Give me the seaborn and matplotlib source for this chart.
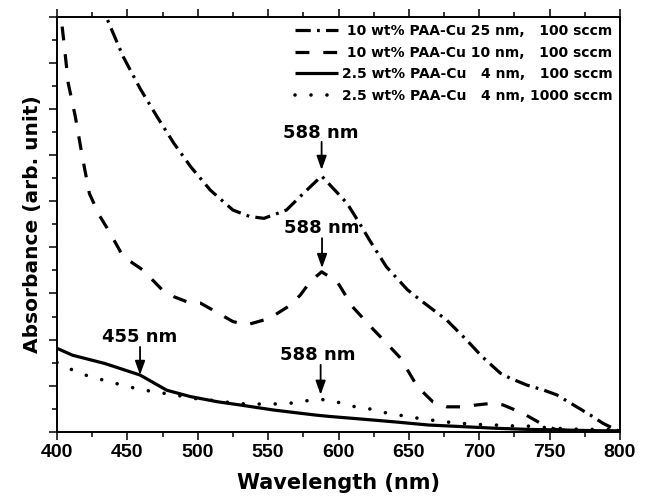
import numpy as np
import pandas as pd
import seaborn as sns
import matplotlib
matplotlib.use("Agg")
import matplotlib.pyplot as plt
from matplotlib.ticker import MultipleLocator

# ---------------- data ----------------
wl_25 = [430, 435, 447, 459, 471, 483, 495, 509, 525, 537, 547, 563, 575, 588,
         606, 615, 622, 634, 649, 658, 677, 691, 702, 715, 722, 734, 746, 755,
         767, 779, 788, 800]
abs_25 = [9.9, 9.0, 8.14, 7.45, 6.84, 6.26, 5.75, 5.24, 4.81, 4.67, 4.63, 4.81,
          5.17, 5.55, 4.96, 4.52, 4.16, 3.58, 3.08, 2.86, 2.42, 1.99, 1.63, 1.27,
          1.16, 1.01, 0.90, 0.80, 0.58, 0.36, 0.18, 0.0]

wl_10 = [400, 403, 405, 408, 413, 418, 423, 430, 437, 447, 461, 475, 483, 494,
         502, 513, 525, 535, 551, 566, 573, 580, 588, 599, 610, 625, 632, 644,
         656, 667, 677, 689, 698, 710, 717, 731, 746, 755, 770, 800]
abs_10 = [9.7, 8.97, 8.43, 7.56, 6.84, 5.97, 5.17, 4.7, 4.35, 3.8, 3.51, 3.07,
          2.93, 2.80, 2.79, 2.60, 2.39, 2.32, 2.46, 2.75, 2.97, 3.26, 3.47, 3.26,
          2.71, 2.21, 1.99, 1.60, 0.98, 0.65, 0.54, 0.54, 0.58, 0.62, 0.58, 0.40,
          0.14, 0.04, 0.02, 0.01]

wl_4 = [400, 411, 434, 459, 478, 495, 502, 514, 530, 554, 573, 584, 594, 618,
        641, 664, 688, 712, 735, 759, 783, 800]
abs_4 = [1.81, 1.66, 1.48, 1.23, 0.90, 0.76, 0.72, 0.65, 0.58, 0.47, 0.40, 0.36,
         0.33, 0.27, 0.21, 0.145, 0.11, 0.074, 0.05, 0.037, 0.022, 0.015]

wl_4k = [400, 411, 422, 433, 444, 456, 468, 479, 491, 502, 515, 527, 539, 552,
         564, 577, 588, 601, 612, 623, 635, 647, 657, 669, 680, 692, 704, 716,
         727, 738, 750, 761, 773, 784, 800]
abs_4k = [1.50, 1.34, 1.21, 1.12, 1.03, 0.94, 0.87, 0.82, 0.76, 0.70, 0.67, 0.61,
          0.60, 0.60, 0.61, 0.67, 0.70, 0.63, 0.54, 0.49, 0.40, 0.34, 0.29, 0.24,
          0.20, 0.17, 0.15, 0.14, 0.12, 0.12, 0.08, 0.065, 0.05, 0.05, 0.05]

labels = [" 10 wt% PAA-Cu 25 nm,   100 sccm",
          " 10 wt% PAA-Cu 10 nm,   100 sccm",
          "2.5 wt% PAA-Cu   4 nm,   100 sccm",
          "2.5 wt% PAA-Cu   4 nm, 1000 sccm"]

xticks = [400, 450, 500, 550, 600, 650, 700, 750, 800]
xticklabels = ["400", "450", "500", "550", "600", "650", "700", "750", "800"]

# annotations: (text, text_x, text_y, arrow_x, arrow_tail_y, arrow_tip_y)
ann_text = ["588 nm", "588 nm", "588 nm", "455 nm"]
ann_tx = [587.3, 587.9, 585.5, 458.5]
ann_ty = [6.48, 4.42, 1.66, 2.05]
ann_ax = [588.0, 588.3, 587.3, 459.0]
ann_tail = [6.29, 4.20, 1.45, 1.84]
ann_tip = [5.68, 3.55, 0.80, 1.23]

# ---------------- styling ----------------
sns.set_theme(style="ticks")
plt.rcParams["font.family"] = ["DejaVu Sans"]
plt.rcParams["font.weight"] = "bold"
plt.rcParams["lines.scale_dashes"] = False
plt.rcParams["text.color"] = "black"
plt.rcParams["axes.labelcolor"] = "black"
plt.rcParams["xtick.color"] = "black"
plt.rcParams["ytick.color"] = "black"
plt.rcParams["axes.edgecolor"] = "black"

fig = plt.figure(figsize=(6.49, 4.99), dpi=100)
ax = fig.add_axes([57 / 649, 1 - 431.7 / 499, 563 / 649, 414.7 / 499])

series = [(wl_25, abs_25), (wl_10, abs_10), (wl_4, abs_4), (wl_4k, abs_4k)]
styles = [
    dict(dashes=(11, 4.5, 2, 4.5), cap="butt", lw=2.3),
    dict(dashes=(10, 10), cap="butt", lw=2.3),
    dict(dashes=None, cap="butt", lw=2.3),
    dict(dashes=(0.01, 11.5), cap="round", lw=2.6),
]

for (xs, ys), lab, st in zip(series, labels, styles):
    df = pd.DataFrame({"wl": xs, "a": ys})
    sns.lineplot(data=df, x="wl", y="a", ax=ax, color="black",
                 linewidth=st["lw"], label=lab, estimator=None, sort=False)
    line = ax.lines[-1]
    if st["dashes"] is not None:
        line.set_dashes(st["dashes"])
        line.set_dash_capstyle(st["cap"])
    line.set_solid_capstyle("butt")

ax.set_xlim(400, 800)
ax.set_ylim(0, 9)
ax.set_xticks(xticks)
ax.set_xticklabels(xticklabels, fontfamily="Liberation Sans",
                   fontweight="bold", fontsize=14, color="black")
ax.xaxis.set_minor_locator(MultipleLocator(25))
ax.yaxis.set_major_locator(MultipleLocator(1))
ax.yaxis.set_minor_locator(MultipleLocator(0.5))
ax.set_yticklabels([])

ax.tick_params(which="both", direction="out", top=True, right=False,
               left=True, bottom=True, labelleft=False, labeltop=False,
               color="black", width=1.1)
ax.tick_params(which="major", length=6)
ax.tick_params(which="minor", length=3.6)
ax.tick_params(axis="x", which="major", pad=3)

for sp in ax.spines.values():
    sp.set_visible(True)
    sp.set_color("black")
    sp.set_linewidth(1.4)

ax.set_xlabel("Wavelength (nm)", fontsize=15, fontweight="bold", color="black")
ax.set_ylabel("Absorbance (arb. unit)", fontsize=14.5, fontweight="bold", color="black")
ax.xaxis.set_label_coords(0.5, -0.10)
ax.yaxis.set_label_coords(-0.026, 0.5)

for t, tx, ty, axx, tail, tip in zip(ann_text, ann_tx, ann_ty, ann_ax, ann_tail, ann_tip):
    ax.text(tx, ty, t, ha="center", va="center", fontsize=13,
            fontweight="bold", color="black")
    ax.annotate("", xy=(axx, tip), xytext=(axx, tail),
                arrowprops=dict(arrowstyle="-|>,head_length=0.7,head_width=0.25",
                                color="black", lw=1.3, shrinkA=0, shrinkB=0))

leg = ax.legend(loc="upper right", frameon=False,
                prop=dict(family="DejaVu Sans", weight="bold", size=10),
                handlelength=3.1, handletextpad=0.3, labelspacing=0.55,
                borderpad=0.2, borderaxespad=0.3)
for txt in leg.get_texts():
    txt.set_color("black")

fig.savefig("out.png", dpi=100)
